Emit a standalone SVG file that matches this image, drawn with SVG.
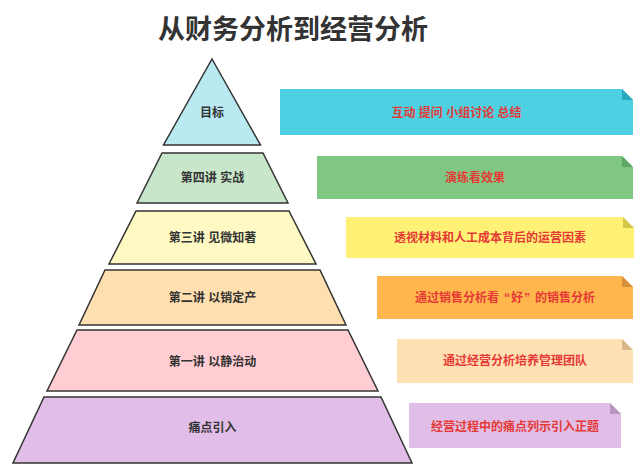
<svg xmlns="http://www.w3.org/2000/svg" width="643" height="469" viewBox="0 0 643 469">
<style>
.lvl{stroke:#333;stroke-width:1.5;stroke-linejoin:miter}
.lt{font-family:"Liberation Sans","Noto Sans CJK SC",sans-serif;font-size:12px;font-weight:bold;fill:#333;text-anchor:middle}
.bt{font-family:"Liberation Sans","Noto Sans CJK SC",sans-serif;font-size:12px;font-weight:bold;fill:#E53935;text-anchor:middle}
.title{font-family:"Liberation Sans","Noto Sans CJK SC",sans-serif;font-size:27px;font-weight:bold;fill:#333;text-anchor:middle}
</style>
<rect width="643" height="469" fill="#fff"/>
<text class="title" x="293" y="39">从财务分析到经营分析</text>
<g id="pyramid">
<g id="L1"><polygon class="lvl" fill="#B9E9F1" points="212,59 260.5,145 163.5,145"/><text class="lt" x="212" y="117">目标</text></g>
<g id="L2"><polygon class="lvl" fill="#C8E6C9" points="162,153 263,153 288,203 137,203"/><text class="lt" x="212.5" y="182">第四讲 实战</text></g>
<g id="L3"><polygon class="lvl" fill="#FFF9C4" points="136,211 289,211 316,264 109,264"/><text class="lt" x="212.5" y="242">第三讲 见微知著</text></g>
<g id="L4"><polygon class="lvl" fill="#FFDFB0" points="105,270 320,270 346,325 79,325"/><text class="lt" x="212.5" y="302">第二讲 以销定产</text></g>
<g id="L5"><polygon class="lvl" fill="#FFCDD2" points="77,330 348,330 378,391 47,391"/><text class="lt" x="212.5" y="366">第一讲 以静治动</text></g>
<g id="L6"><polygon class="lvl" fill="#E1BEE7" points="44,397 381,397 412,463 13,463"/><text class="lt" x="212.5" y="432">痛点引入</text></g>
</g>
<g id="boxes">
<g id="B1"><polygon fill="#4DD0E1" points="280,89 622,89 633,100 633,135 280,135"/><polygon fill="#26A9BA" points="622,89 633,100 622,100"/><text class="bt" x="456.5" y="117">互动 提问 小组讨论 总结</text></g>
<g id="B2"><polygon fill="#81C784" points="317,156 622,156 633,167 633,199 317,199"/><polygon fill="#5DA862" points="622,156 633,167 622,167"/><text class="bt" x="475" y="182">演练看效果</text></g>
<g id="B3"><polygon fill="#FFF176" points="346,217 623,217 634,228 634,258 346,258"/><polygon fill="#D4C64A" points="623,217 634,228 623,228"/><text class="bt" x="490" y="242">透视材料和人工成本背后的运营因素</text></g>
<g id="B4"><polygon fill="#FFB74D" points="377,276 622,276 633,287 633,319 377,319"/><polygon fill="#D6923A" points="622,276 633,287 622,287"/><text class="bt" x="505" y="302">通过销售分析看<tspan dx="5">“</tspan><tspan dx="1">好</tspan><tspan dx="1">”</tspan><tspan dx="5">的销售分析</tspan></text></g>
<g id="B5"><polygon fill="#FFE0B2" points="397,339 622,339 633,350 633,383 397,383"/><polygon fill="#D9B78A" points="622,339 633,350 622,350"/><text class="bt" x="515" y="365">通过经营分析培养管理团队</text></g>
<g id="B6"><polygon fill="#E1BEE7" points="409,403 610,403 621,414 621,448 409,448"/><polygon fill="#B996C0" points="610,403 621,414 610,414"/><text class="bt" x="515" y="431">经营过程中的痛点列示引入正题</text></g>
</g>
<g id="connectors"/>
</svg>
